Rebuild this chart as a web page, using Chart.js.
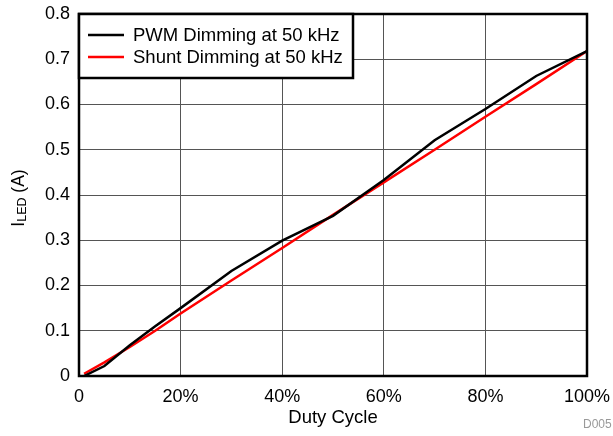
<!DOCTYPE html>
<html>
<head>
<meta charset="utf-8">
<script src="https://cdn.jsdelivr.net/npm/chart.js@4.4.1/dist/chart.umd.min.js"></script>
<style>
  html, body { margin: 0; padding: 0; background: #fff; }
  #wrap { width: 613px; height: 436px; }
</style>
</head>
<body>
<div id="wrap"><canvas id="ledChart" width="613" height="436"></canvas></div>
<script>
// datos
var dutyCycle = [1, 5, 10, 15, 20, 30, 40, 50, 60, 70, 80, 90, 100];
var pwmCurrent = [0.0, 0.022, 0.068, 0.11, 0.15, 0.232, 0.299, 0.354, 0.433, 0.521, 0.59, 0.663, 0.718];
var shuntCurrent = [0.005, 0.03, 0.064, 0.1, 0.138, 0.211, 0.283, 0.356, 0.428, 0.5, 0.573, 0.645, 0.718];
var seriesNames = ['PWM Dimming at 50 kHz', 'Shunt Dimming at 50 kHz'];
var xTicks = [0, 20, 40, 60, 80, 100];
var yTicks = [0, 0.1, 0.2, 0.3, 0.4, 0.5, 0.6, 0.7, 0.8];

var FONT = '"Liberation Sans", Arial, sans-serif';

function toPoints(xs, ys) {
    return xs.map(function (x, i) { return { x: x, y: ys[i] }; });
}

// marco, leyenda y titulos de ejes
var decorPlugin = {
    id: 'decor',
    afterDraw: function (chart) {
        var ctx = chart.ctx;
        var a = chart.chartArea;
        ctx.save();
        // marco del grafico
        ctx.strokeStyle = '#000';
        ctx.lineWidth = 2.5;
        ctx.strokeRect(a.left, a.top, a.right - a.left, a.bottom - a.top);

        // leyenda
        var lx = a.left, ly = a.top, lw = 274, lh = 64;
        ctx.fillStyle = '#fff';
        ctx.fillRect(lx, ly, lw, lh);
        ctx.lineWidth = 2.5;
        ctx.strokeRect(lx, ly, lw, lh);
        ctx.font = '18.5px ' + FONT;
        ctx.textBaseline = 'middle';
        ctx.textAlign = 'left';
        chart.data.datasets.forEach(function (ds, i) {
            var yy = ly + 21 + i * 22;
            ctx.strokeStyle = ds.borderColor;
            ctx.lineWidth = 2.5;
            ctx.beginPath();
            ctx.moveTo(lx + 9, yy);
            ctx.lineTo(lx + 45, yy);
            ctx.stroke();
            ctx.fillStyle = '#000';
            ctx.fillText(ds.label, lx + 54, yy + 1);
        });

        // titulo eje x
        ctx.fillStyle = '#000';
        ctx.textAlign = 'center';
        ctx.font = '18.5px ' + FONT;
        ctx.fillText('Duty Cycle', (a.left + a.right) / 2, 418);

        // titulo eje y con subindice
        ctx.translate(19, (a.top + a.bottom) / 2 + 3);
        ctx.rotate(-Math.PI / 2);
        ctx.textAlign = 'left';
        var big = '17.5px ' + FONT, small = '12.5px ' + FONT;
        ctx.font = big;
        var w1 = ctx.measureText('I').width;
        var w3 = ctx.measureText(' (A)').width;
        ctx.font = small;
        var w2 = ctx.measureText('LED').width;
        var x0 = -(w1 + w2 + w3) / 2;
        ctx.font = big;
        ctx.fillText('I', x0, 0);
        ctx.font = small;
        ctx.fillText('LED', x0 + w1, 4);
        ctx.font = big;
        ctx.fillText(' (A)', x0 + w1 + w2, 0);
        ctx.restore();

        // codigo de figura
        ctx.save();
        ctx.fillStyle = '#999';
        ctx.font = '12px ' + FONT;
        ctx.textAlign = 'left';
        ctx.textBaseline = 'middle';
        ctx.fillText('D005', 583, 425);
        ctx.restore();
    }
};

var ledCtx = document.getElementById('ledChart').getContext('2d');
var ledChart = new Chart(ledCtx, {
    type: 'line',
    data: {
        datasets: [{
            label: seriesNames[0],
            data: toPoints(dutyCycle, pwmCurrent),
            borderColor: '#000000',
            borderWidth: 2.5,
            pointRadius: 0,
            fill: false
        }, {
            label: seriesNames[1],
            data: toPoints(dutyCycle, shuntCurrent),
            borderColor: '#ff0000',
            borderWidth: 2.5,
            pointRadius: 0,
            fill: false
        }]
    },
    options: {
        responsive: false,
        animation: false,
        layout: { padding: { left: 0, top: 14, right: 26, bottom: 0 } },
        plugins: {
            legend: { display: false },
            tooltip: { enabled: false }
        },
        scales: {
            x: {
                type: 'linear',
                min: 0,
                max: 100,
                afterBuildTicks: function (axis) {
                    axis.ticks = xTicks.map(function (v) { return { value: v }; });
                },
                afterFit: function (axis) {
                    axis.height = 60;
                    axis.paddingLeft = 0;
                    axis.paddingRight = 0;
                },
                ticks: {
                    color: '#000',
                    font: { family: FONT, size: 18 },
                    padding: 10,
                    maxRotation: 0,
                    callback: function (v) { return v === 0 ? '0' : v + '%'; }
                },
                grid: { color: '#555', lineWidth: 1, drawTicks: false },
                border: { display: false }
            },
            y: {
                min: 0,
                max: 0.8,
                afterBuildTicks: function (axis) {
                    axis.ticks = yTicks.map(function (v) { return { value: v }; });
                },
                afterFit: function (axis) {
                    axis.width = 79;
                    axis.paddingTop = 0;
                    axis.paddingBottom = 0;
                },
                ticks: {
                    color: '#000',
                    font: { family: FONT, size: 18 },
                    padding: 9,
                    callback: function (v) { return v === 0 ? '0' : v.toFixed(1); }
                },
                grid: { color: '#555', lineWidth: 1, drawTicks: false },
                border: { display: false }
            }
        }
    },
    plugins: [decorPlugin]
});
</script>
</body>
</html>
